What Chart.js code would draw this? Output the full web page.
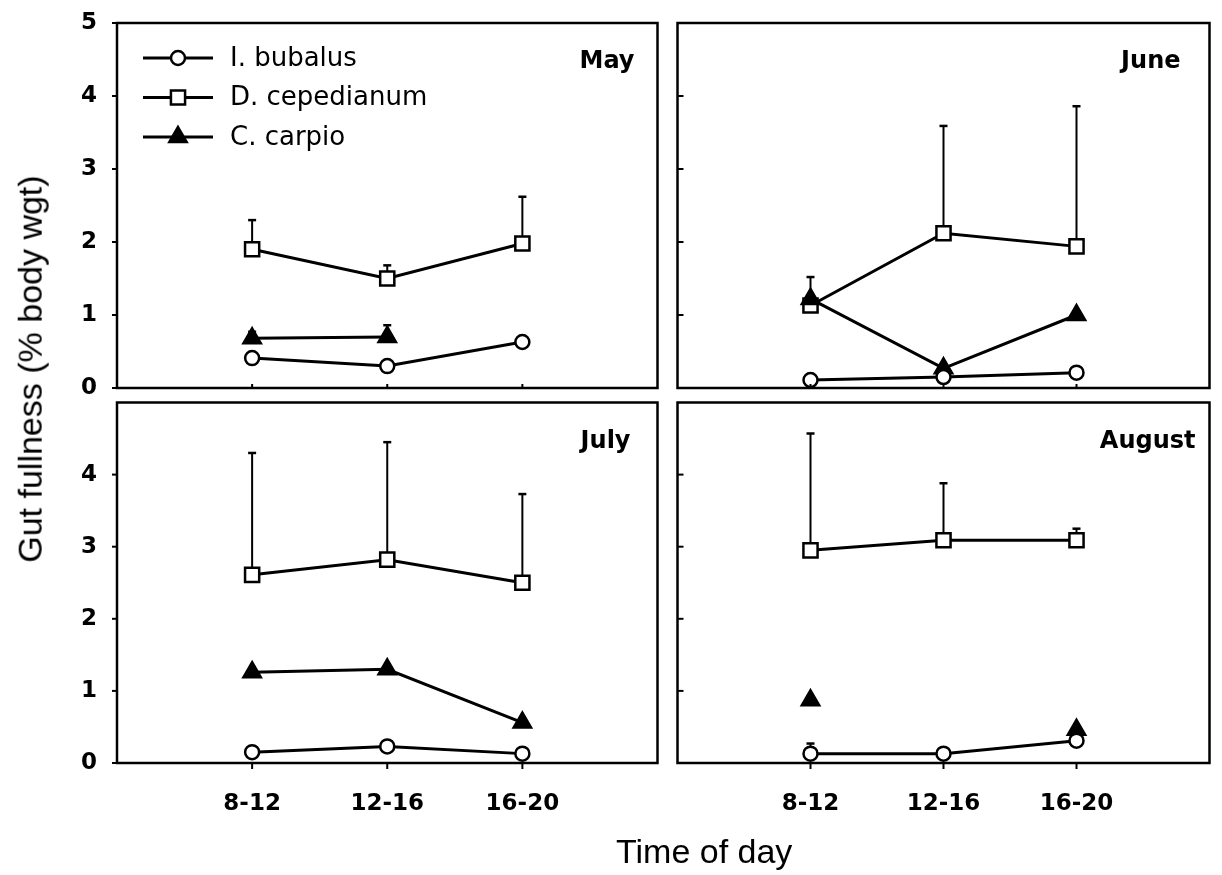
<!DOCTYPE html>
<html><head><meta charset="utf-8">
<script src="https://cdn.jsdelivr.net/npm/chart.js@4.4.1/dist/chart.umd.min.js"></script>
<style>
html,body{margin:0;padding:0;background:#fff;}
body{width:1222px;height:875px;position:relative;overflow:hidden;}
canvas{position:absolute;}
.ttl{position:absolute;font-family:'Liberation Sans',Arial,sans-serif;font-size:34px;color:#000;white-space:nowrap;line-height:34px;}
</style></head><body>
<canvas id="c0" width="670" height="410" style="left:0px;top:0px"></canvas>
<canvas id="c1" width="557" height="410" style="left:665px;top:0px"></canvas>
<canvas id="c2" width="670" height="485" style="left:0px;top:390px"></canvas>
<canvas id="c3" width="557" height="485" style="left:665px;top:390px"></canvas>
<div class="ttl" id="ytitle">Gut fullness (% body wgt)</div>
<div class="ttl" id="xtitle">Time of day</div>
<script>
// ---- data ----
const timeLabels = ['8-12', '12-16', '16-20'];
const yTickValues = [0, 1, 2, 3, 4, 5];
const months = ['May', 'June', 'July', 'August'];
const speciesNames = ['I. bubalus', 'D. cepedianum', 'C. carpio'];

const mayBubalus = [0.41, 0.30, 0.63];
const mayCepedianum = [1.90, 1.50, 1.98];
const mayCarpio = [0.68, 0.70, null];
const juneBubalus = [0.11, 0.15, 0.21];
const juneCepedianum = [1.13, 2.12, 1.94];
const juneCarpio = [1.22, 0.27, 1.00];
const julyBubalus = [0.15, 0.23, 0.13];
const julyCepedianum = [2.61, 2.82, 2.50];
const julyCarpio = [1.26, 1.30, 0.56];
const augustBubalus = [0.13, 0.13, 0.31];
const augustCepedianum = [2.95, 3.09, 3.09];
const augustCarpio = [0.87, null, 0.46];

// upward error bars (+SE)
const mayBubalusErr = [0, 0, 0];
const mayCepedianumErr = [0.40, 0.18, 0.64];
const mayCarpioErr = [0.09, 0.16, 0];
const juneBubalusErr = [0, 0, 0];
const juneCepedianumErr = [0, 1.47, 1.92];
const juneCarpioErr = [0.30, 0, 0];
const julyBubalusErr = [0, 0, 0];
const julyCepedianumErr = [1.69, 1.63, 1.23];
const julyCarpioErr = [0, 0, 0];
const augustBubalusErr = [0.14, 0, 0];
const augustCepedianumErr = [1.62, 0.79, 0.16];
const augustCarpioErr = [0, 0, 0];

// ---- styles ----
const TICK_FONT = {family: 'DejaVu Sans', size: 23, weight: 'bold'};
const markerStyles = [
  {pointStyle: 'circle', radius: 7, fill: '#fff', order: 0},
  {pointStyle: 'rect', radius: 10, fill: '#fff', order: 2},
  {pointStyle: 'triangle', radius: 10, fill: '#000', order: 1}
];

function drawMarker(ctx, st, x, y) {
  ctx.save();
  ctx.fillStyle = st.fill; ctx.strokeStyle = '#000'; ctx.lineWidth = 2.5;
  if (Chart.helpers && Chart.helpers.drawPoint) {
    Chart.helpers.drawPoint(ctx, {pointStyle: st.pointStyle, radius: st.radius, borderWidth: 2.5, rotation: 0}, x, y);
  } else {
    ctx.beginPath();
    const r = st.radius;
    if (st.pointStyle === 'circle') ctx.arc(x, y, r, 0, Math.PI * 2);
    else if (st.pointStyle === 'rect') { const s = r * Math.SQRT1_2; ctx.rect(x - s, y - s, 2 * s, 2 * s); }
    else { ctx.moveTo(x, y - r); ctx.lineTo(x + r * 0.866, y + r * 0.5); ctx.lineTo(x - r * 0.866, y + r * 0.5); ctx.closePath(); }
    ctx.fill(); ctx.stroke();
  }
  ctx.restore();
}

const panelPlugin = {
  id: 'panel',
  beforeDatasetsDraw(chart, args, o) {
    const {ctx, scales: {x, y}} = chart;
    ctx.save();
    ctx.strokeStyle = '#000';
    chart.data.datasets.forEach(ds => {
      (ds.err || []).forEach((e, i) => {
        const pt = ds.data[i];
        if (pt.y == null || !e) return;
        const px = x.getPixelForValue(pt.x);
        const y0 = y.getPixelForValue(pt.y), y1 = y.getPixelForValue(pt.y + e);
        ctx.lineWidth = 2;
        ctx.beginPath(); ctx.moveTo(px, y0); ctx.lineTo(px, y1); ctx.stroke();
        ctx.lineWidth = 2.5;
        ctx.beginPath(); ctx.moveTo(px - 4, y1); ctx.lineTo(px + 4, y1); ctx.stroke();
      });
    });
    ctx.restore();
  },
  afterDraw(chart, args, o) {
    const {ctx, chartArea: a, scales: {x, y}} = chart;
    ctx.save();
    ctx.strokeStyle = '#000';
    ctx.lineWidth = 2.5;
    ctx.strokeRect(a.left, a.top, a.right - a.left, a.bottom - a.top);
    // y tick marks
    ctx.lineWidth = 2;
    o.yTicks.forEach(v => {
      const py = y.getPixelForValue(v);
      ctx.beginPath();
      if (o.yOut) { ctx.moveTo(a.left - 5, py); ctx.lineTo(a.left, py); }
      else { ctx.moveTo(a.left, py); ctx.lineTo(a.left + 6, py); }
      ctx.stroke();
    });
    // x tick marks
    timeLabels.forEach((t, i) => {
      const px = x.getPixelForValue(i + 1);
      ctx.beginPath();
      if (o.xOut) { ctx.moveTo(px, a.bottom); ctx.lineTo(px, a.bottom + 6); }
      else { ctx.moveTo(px, a.bottom); ctx.lineTo(px, a.bottom - 4); }
      ctx.stroke();
    });
    // month label
    ctx.fillStyle = '#000';
    ctx.font = 'bold 24px "DejaVu Sans"';
    ctx.textAlign = 'right';
    ctx.textBaseline = 'alphabetic';
    ctx.fillText(o.month, a.right - o.inset, a.top + 45);
    // legend
    if (o.legend) {
      ctx.font = '26px "DejaVu Sans"';
      ctx.textAlign = 'left';
      ctx.textBaseline = 'middle';
      speciesNames.forEach((name, i) => {
        const yy = a.top + 35 + i * 39.5;
        ctx.lineWidth = 3;
        ctx.strokeStyle = '#000';
        ctx.beginPath(); ctx.moveTo(a.left + 26, yy); ctx.lineTo(a.left + 96, yy); ctx.stroke();
        drawMarker(ctx, markerStyles[i], a.left + 61, yy);
        ctx.fillStyle = '#000';
        ctx.fillText(name, a.left + 113, yy + 1);
      });
    }
    ctx.restore();
  }
};

function makeDataset(i, vals, errs) {
  const st = markerStyles[i];
  return {
    label: speciesNames[i],
    order: st.order,
    data: vals.map((v, k) => ({x: k + 1, y: v})),
    err: errs,
    borderColor: '#000',
    borderWidth: 3,
    pointStyle: st.pointStyle,
    pointRadius: st.radius,
    pointHoverRadius: st.radius,
    pointBackgroundColor: st.fill,
    pointBorderColor: '#000',
    pointBorderWidth: 2.5,
    showLine: true,
    spanGaps: false,
    tension: 0,
    fill: false
  };
}

// wanted plot areas in canvas coordinates
const panels = [
  {id: 'c0', month: months[0], b: mayBubalus, be: mayBubalusErr, d: mayCepedianum, de: mayCepedianumErr, c: mayCarpio, ce: mayCarpioErr,
   left: true, bottom: false, inset: 23, legend: true, area: {left: 117, top: 23, right: 658, bottom: 388}},
  {id: 'c1', month: months[1], b: juneBubalus, be: juneBubalusErr, d: juneCepedianum, de: juneCepedianumErr, c: juneCarpio, ce: juneCarpioErr,
   left: false, bottom: false, inset: 29, legend: false, area: {left: 12, top: 23, right: 551, bottom: 388}},
  {id: 'c2', month: months[2], b: julyBubalus, be: julyBubalusErr, d: julyCepedianum, de: julyCepedianumErr, c: julyCarpio, ce: julyCarpioErr,
   left: true, bottom: true, inset: 27, legend: false, area: {left: 117, top: 12, right: 658, bottom: 373}},
  {id: 'c3', month: months[3], b: augustBubalus, be: augustBubalusErr, d: augustCepedianum, de: augustCepedianumErr, c: augustCarpio, ce: augustCarpioErr,
   left: false, bottom: true, inset: 14, legend: false, area: {left: 11, top: 12, right: 551, bottom: 373}}
];

Chart.defaults.color = '#000';
Chart.defaults.font.family = 'DejaVu Sans';

panels.forEach(p => {
  const yT = p.left ? (p.bottom ? yTickValues.filter(v => v < 5) : yTickValues) : yTickValues.filter(v => v > 0 && v < 5);
  const cv = document.getElementById(p.id);
  const W = cv.width, H = cv.height;
  const pad = {
    left: p.left ? p.area.left - 117 : p.area.left,
    top: p.area.top,
    right: W - p.area.right,
    bottom: p.bottom ? H - p.area.bottom - 112 : H - p.area.bottom
  };
  new Chart(cv, {
    type: 'line',
    data: {
      datasets: [
        makeDataset(0, p.b, p.be),
        makeDataset(1, p.d, p.de),
        makeDataset(2, p.c, p.ce)
      ]
    },
    options: {
      responsive: false,
      animation: false,
      devicePixelRatio: 1,
      events: [],
      layout: {padding: pad},
      plugins: {
        legend: {display: false},
        tooltip: {enabled: false},
        panel: {month: p.month, inset: p.inset, legend: p.legend, yTicks: yT, yOut: p.left, xOut: p.bottom}
      },
      scales: {
        x: {
          type: 'linear', min: 0, max: 4,
          display: p.bottom,
          afterBuildTicks: s => { s.ticks = timeLabels.map((t, i) => ({value: i + 1})); },
          afterFit: s => { if (p.bottom) s.height = 112; s.paddingLeft = 0; s.paddingRight = 0; s.paddingTop = 0; s.paddingBottom = 0; },
          ticks: {callback: v => timeLabels[v - 1] || '', font: TICK_FONT, padding: 27, maxRotation: 0, autoSkip: false},
          grid: {display: false, drawTicks: false},
          border: {display: false}
        },
        y: {
          type: 'linear', min: 0, max: 5,
          display: p.left,
          afterBuildTicks: s => { s.ticks = yTickValues.map(v => ({value: v})); },
          afterFit: s => { if (p.left) s.width = 117; s.paddingTop = 0; s.paddingBottom = 0; s.paddingLeft = 0; s.paddingRight = 0; },
          ticks: {callback: v => (p.bottom && v === 5) ? '' : String(v), font: TICK_FONT, padding: 20, autoSkip: false},
          grid: {display: false, drawTicks: false},
          border: {display: false}
        }
      }
    },
    plugins: [panelPlugin]
  });
});

// axis titles
const yt = document.getElementById('ytitle');
const yw = yt.offsetWidth;
yt.style.left = (29 - yw / 2) + 'px';
yt.style.top = (369 - 17) + 'px';
yt.style.transform = 'rotate(-90deg)';
yt.style.transformOrigin = 'center center';
const xt = document.getElementById('xtitle');
xt.style.left = (704 - xt.offsetWidth / 2) + 'px';
xt.style.top = '834px';
</script>
</body></html>
